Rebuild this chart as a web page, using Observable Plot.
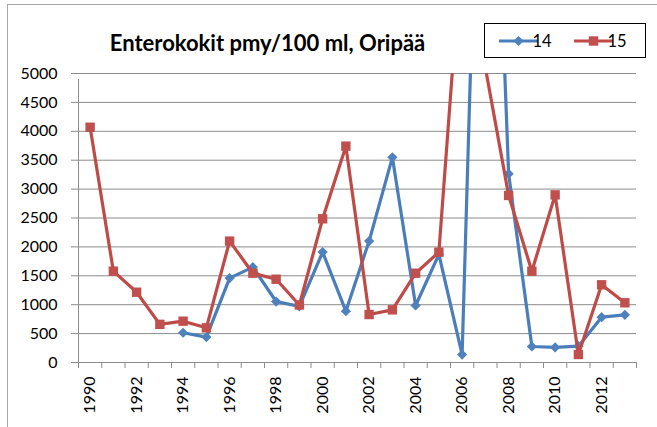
<!DOCTYPE html>
<html>
<head>
<meta charset="utf-8">
<script src="https://cdn.jsdelivr.net/npm/d3@7"></script>
<script src="https://cdn.jsdelivr.net/npm/@observablehq/plot@0.6"></script>
<style>
  html, body { margin: 0; padding: 0; background: #fff; overflow: hidden; }
  #wrap { position: relative; width: 657px; height: 427px; }
  #border { position: absolute; left: 7px; top: 4px; width: 700px; height: 500px;
            border: 1px solid #a6a6a6; box-sizing: border-box; pointer-events: none; }
  #chart { position: absolute; left: 0; top: 0; }
</style>
</head>
<body>
<div id="wrap"><div id="border"></div><div id="chart"></div></div>
<script>
const title = "Enterokokit pmy/100 ml, Oripää";
const years = [1990,1991,1992,1993,1994,1995,1996,1997,1998,1999,2000,2001,2002,2003,2004,2005,2006,2007,2008,2009,2010,2011,2012,2013];
const yearLabels = [1990,1992,1994,1996,1998,2000,2002,2004,2006,2008,2010,2012];
const yTicks = [0,500,1000,1500,2000,2500,3000,3500,4000,4500,5000];
const seriesNames = ["14","15"];
const series14 = [null,null,null,null,515,440,1460,1650,1055,970,1910,888,2100,3550,986,1870,138,13800,3265,277,260,282,785,825];
const series15 = [4070,1580,1216,660,715,600,2100,1545,1441,995,2486,3743,830,911,1545,1909,7300,5100,2890,1580,2900,138,1344,1033];
const colors = {"14": "#4A7EBB", "15": "#BE4B48"};
const fills = {"14": "#4F81BD", "15": "#C0504D"};
const symbols = {"14": "diamond2", "15": "square"};
const radii = {"14": 4.6, "15": 5.3};

const rows = [];
years.forEach((yr, i) => {
  if (series14[i] != null) rows.push({year: yr, value: series14[i], s: "14"});
  if (series15[i] != null) rows.push({year: yr, value: series15[i], s: "15"});
});
const bounds = years.map(y => y - 0.5).concat([years[years.length - 1] + 0.5]);
const grid = "#8c8c8c";

const marks = [
  Plot.gridY(yTicks, {stroke: grid, strokeOpacity: 1}),
  Plot.ruleY([0], {stroke: grid}),
  Plot.ruleX([bounds[0]], {stroke: grid, y1: 0, y2: 5000, insetBottom: -6}),
  Plot.axisY(yTicks, {tickSize: 7, tickPadding: 14, stroke: grid, tickFormat: d => String(d), label: null}),
  Plot.axisX(bounds, {tickSize: 6, tickPadding: 0, stroke: grid, tickFormat: () => "", label: null}),
  Plot.axisX(yearLabels, {tickSize: 0, tickPadding: 14, tickRotate: -90, tickFormat: d => String(d), label: null}),
];
for (const s of seriesNames) {
  const data = rows.filter(r => r.s === s);
  marks.push(Plot.line(data, {x: "year", y: "value", stroke: colors[s], strokeWidth: 3.2, clip: true, strokeLinejoin: "round"}));
  marks.push(Plot.dot(data, {x: "year", y: "value", symbol: () => symbols[s], fill: fills[s], stroke: "none", r: radii[s], clip: true}));
}
marks.push(Plot.text([title], {frameAnchor: "top", dx: -90, dy: -23, lineAnchor: "bottom", fontWeight: "bold", fontSize: 22, fill: "#000"}));

const chart = Plot.plot({
  width: 657, height: 427,
  marginLeft: 78, marginRight: 21, marginTop: 73, marginBottom: 65,
  style: {fontFamily: "Lato, 'Open Sans', sans-serif", fontSize: "16px", color: "#000", background: "transparent", overflow: "visible"},
  x: {domain: [bounds[0], bounds[bounds.length - 1]]},
  y: {domain: [0, 5000]},
  symbol: {domain: ["diamond2", "square"], range: ["diamond2", "square"]},
  marks
});
document.getElementById("chart").appendChild(chart);

// legend
const svg = d3.select(chart);
const lg = svg.append("g").attr("font-family", "Lato, 'Open Sans', sans-serif").attr("font-size", 16.5);
lg.append("rect").attr("x", 484.5).attr("y", 23.5).attr("width", 161).attr("height", 34)
  .attr("fill", "#fff").attr("stroke", "#000");
const items = [{s: "14", x: 499}, {s: "15", x: 574}];
for (const it of items) {
  const cy = 41;
  lg.append("line").attr("x1", it.x).attr("x2", it.x + 39).attr("y1", cy).attr("y2", cy)
    .attr("stroke", colors[it.s]).attr("stroke-width", 3.2);
  const sym = it.s === "14" ? d3.symbolDiamond2 : d3.symbolSquare;
  lg.append("path").attr("transform", `translate(${it.x + 19.5},${cy})`)
    .attr("d", d3.symbol(sym, Math.PI * radii[it.s] * radii[it.s])())
    .attr("fill", fills[it.s]);
  lg.append("text").attr("x", it.x + 43).attr("y", 47).text(it.s).attr("fill", "#000");
}
</script>
</body>
</html>
